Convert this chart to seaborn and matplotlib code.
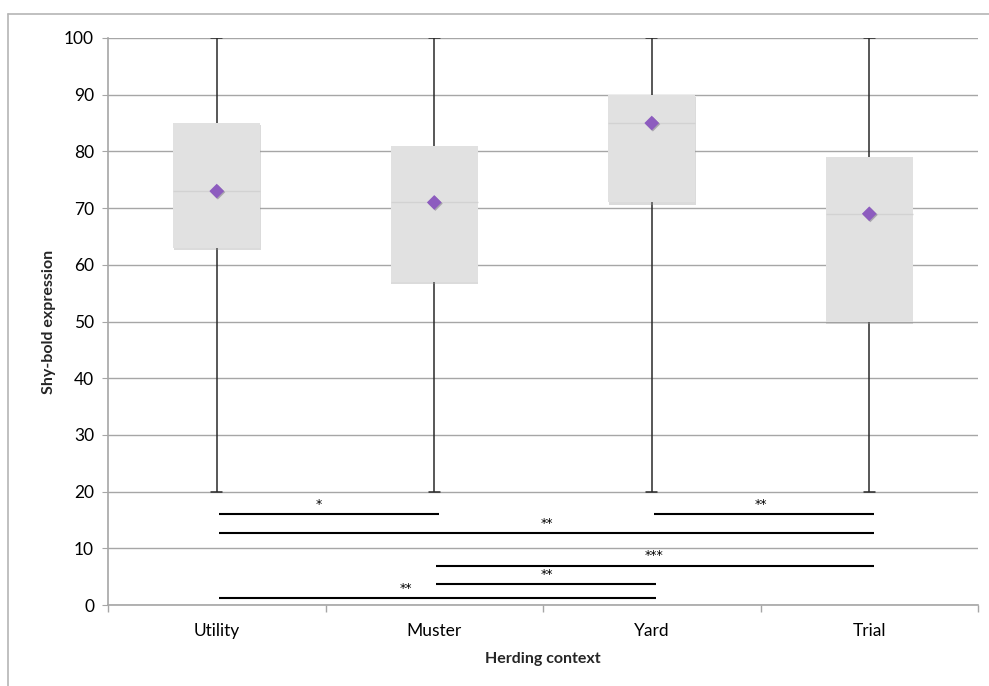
import numpy as np
import pandas as pd
import matplotlib
matplotlib.use("Agg")
import matplotlib.pyplot as plt
import matplotlib.patheffects as pe
from matplotlib.lines import Line2D
import seaborn as sns

# ---- data ----
categories = ["Utility", "Muster", "Yard", "Trial"]
whisker_low = [20, 20, 20, 20]
q1 = [63, 57, 71, 50]
median = [73, 71, 85, 69]
q3 = [85, 81, 90, 79]
whisker_high = [100, 100, 100, 100]
means = [73, 71, 85, 69]

sig_from = [0, 0, 2, 1, 1, 0]
sig_to = [1, 3, 3, 3, 2, 2]
sig_level = [16.0, 12.7, 16.0, 6.9, 3.7, 1.2]
sig_label = ["*", "**", "**", "***", "**", "**"]
sig_label_x = [0.47, 1.52, 2.50, 2.01, 1.52, 0.87]

y_ticks = [0, 10, 20, 30, 40, 50, 60, 70, 80, 90, 100]

# five-number summaries -> long table (quartiles reproduce exactly with 5 points)
rows = []
for c, a, b, m, d, e in zip(categories, whisker_low, q1, median, q3, whisker_high):
    for v in (a, b, m, d, e):
        rows.append({"context": c, "value": v})
df = pd.DataFrame(rows)

sns.set_style("white")
plt.rcParams["font.family"] = ["Lato", "DejaVu Sans"]

fig = plt.figure(figsize=(9.89, 6.86), dpi=100)
ax = fig.add_axes([108 / 989, 81 / 686, 870 / 989, 567 / 686])

grid_c = "#a6a6a6"
ax.set_axisbelow(True)
ax.yaxis.grid(True, color=grid_c, linewidth=1.0)
ax.xaxis.grid(False)

sns.boxplot(
    data=df, x="context", y="value", order=categories, ax=ax,
    width=0.4, whis=(0, 100), showfliers=False,
    color="#e1e1e1", linewidth=1.1, linecolor="#2a2a2a",
    boxprops=dict(facecolor="#e1e1e1", edgecolor="none", linewidth=0, zorder=2),
    medianprops=dict(color="#d2d2d2", linewidth=1.0, zorder=3),
    whiskerprops=dict(color="#2a2a2a", linewidth=1.1, zorder=1.5),
    capprops=dict(color="#2a2a2a", linewidth=1.1),
    capwidths=0.05,
)
for p in ax.patches:
    p.set_path_effects([pe.SimplePatchShadow(offset=(0.4, -1.6), shadow_rgbFace="#999999", alpha=0.35), pe.Normal()])

sns.stripplot(x=categories, y=means, order=categories, ax=ax, jitter=False,
              marker="D", size=7.5, color="#8d5cbf", linewidth=0, zorder=5)
for coll in ax.collections:
    coll.set_path_effects([pe.SimplePatchShadow(offset=(0.8, -0.8), alpha=0.3), pe.Normal()])

# significance bars
for i, j, y, lab, lx in zip(sig_from, sig_to, sig_level, sig_label, sig_label_x):
    ax.hlines(y, i + 0.01, j + 0.02, color="black", linewidth=1.5, zorder=4)
    ax.annotate(lab, (lx, y), xytext=(0, 2.5), textcoords="offset points",
                ha="center", va="bottom", fontsize=9, color="black",
                family=["DejaVu Sans"])

ax.set_ylim(0, 100)
ax.set_xlim(-0.5, 3.5)
ax.set_yticks(y_ticks)
ax.set_yticklabels([str(t) for t in y_ticks])
ax.set_xticks(range(len(categories)))
ax.set_xticklabels(categories)
ax.set_xticks([-0.5, 0.5, 1.5, 2.5, 3.5], minor=True)

for s in ["top", "right"]:
    ax.spines[s].set_visible(False)
for s in ["left", "bottom"]:
    ax.spines[s].set_color(grid_c)
    ax.spines[s].set_linewidth(1.2)

ax.tick_params(axis="y", which="major", left=True, length=4, color=grid_c, labelsize=12.5, pad=6, labelcolor="black")
ax.tick_params(axis="x", which="major", bottom=False, length=0, labelsize=12.5, pad=13, labelcolor="black")
ax.tick_params(axis="x", which="minor", bottom=True, length=5, color=grid_c, width=1.0)

ax.set_xlabel("Herding context", fontsize=11.5, fontweight="bold", labelpad=9)
ax.set_ylabel("Shy-bold expression", fontsize=11.5, fontweight="bold", labelpad=6)

# outer chart frame (top and left edges visible)
fig.add_artist(Line2D([8 / 989, 1.0], [1 - 14 / 686, 1 - 14 / 686], transform=fig.transFigure, color="#b5b5b5", linewidth=1.2))
fig.add_artist(Line2D([8 / 989, 8 / 989], [0, 1 - 14 / 686], transform=fig.transFigure, color="#b5b5b5", linewidth=1.2))

fig.savefig("out.png", dpi=100)
